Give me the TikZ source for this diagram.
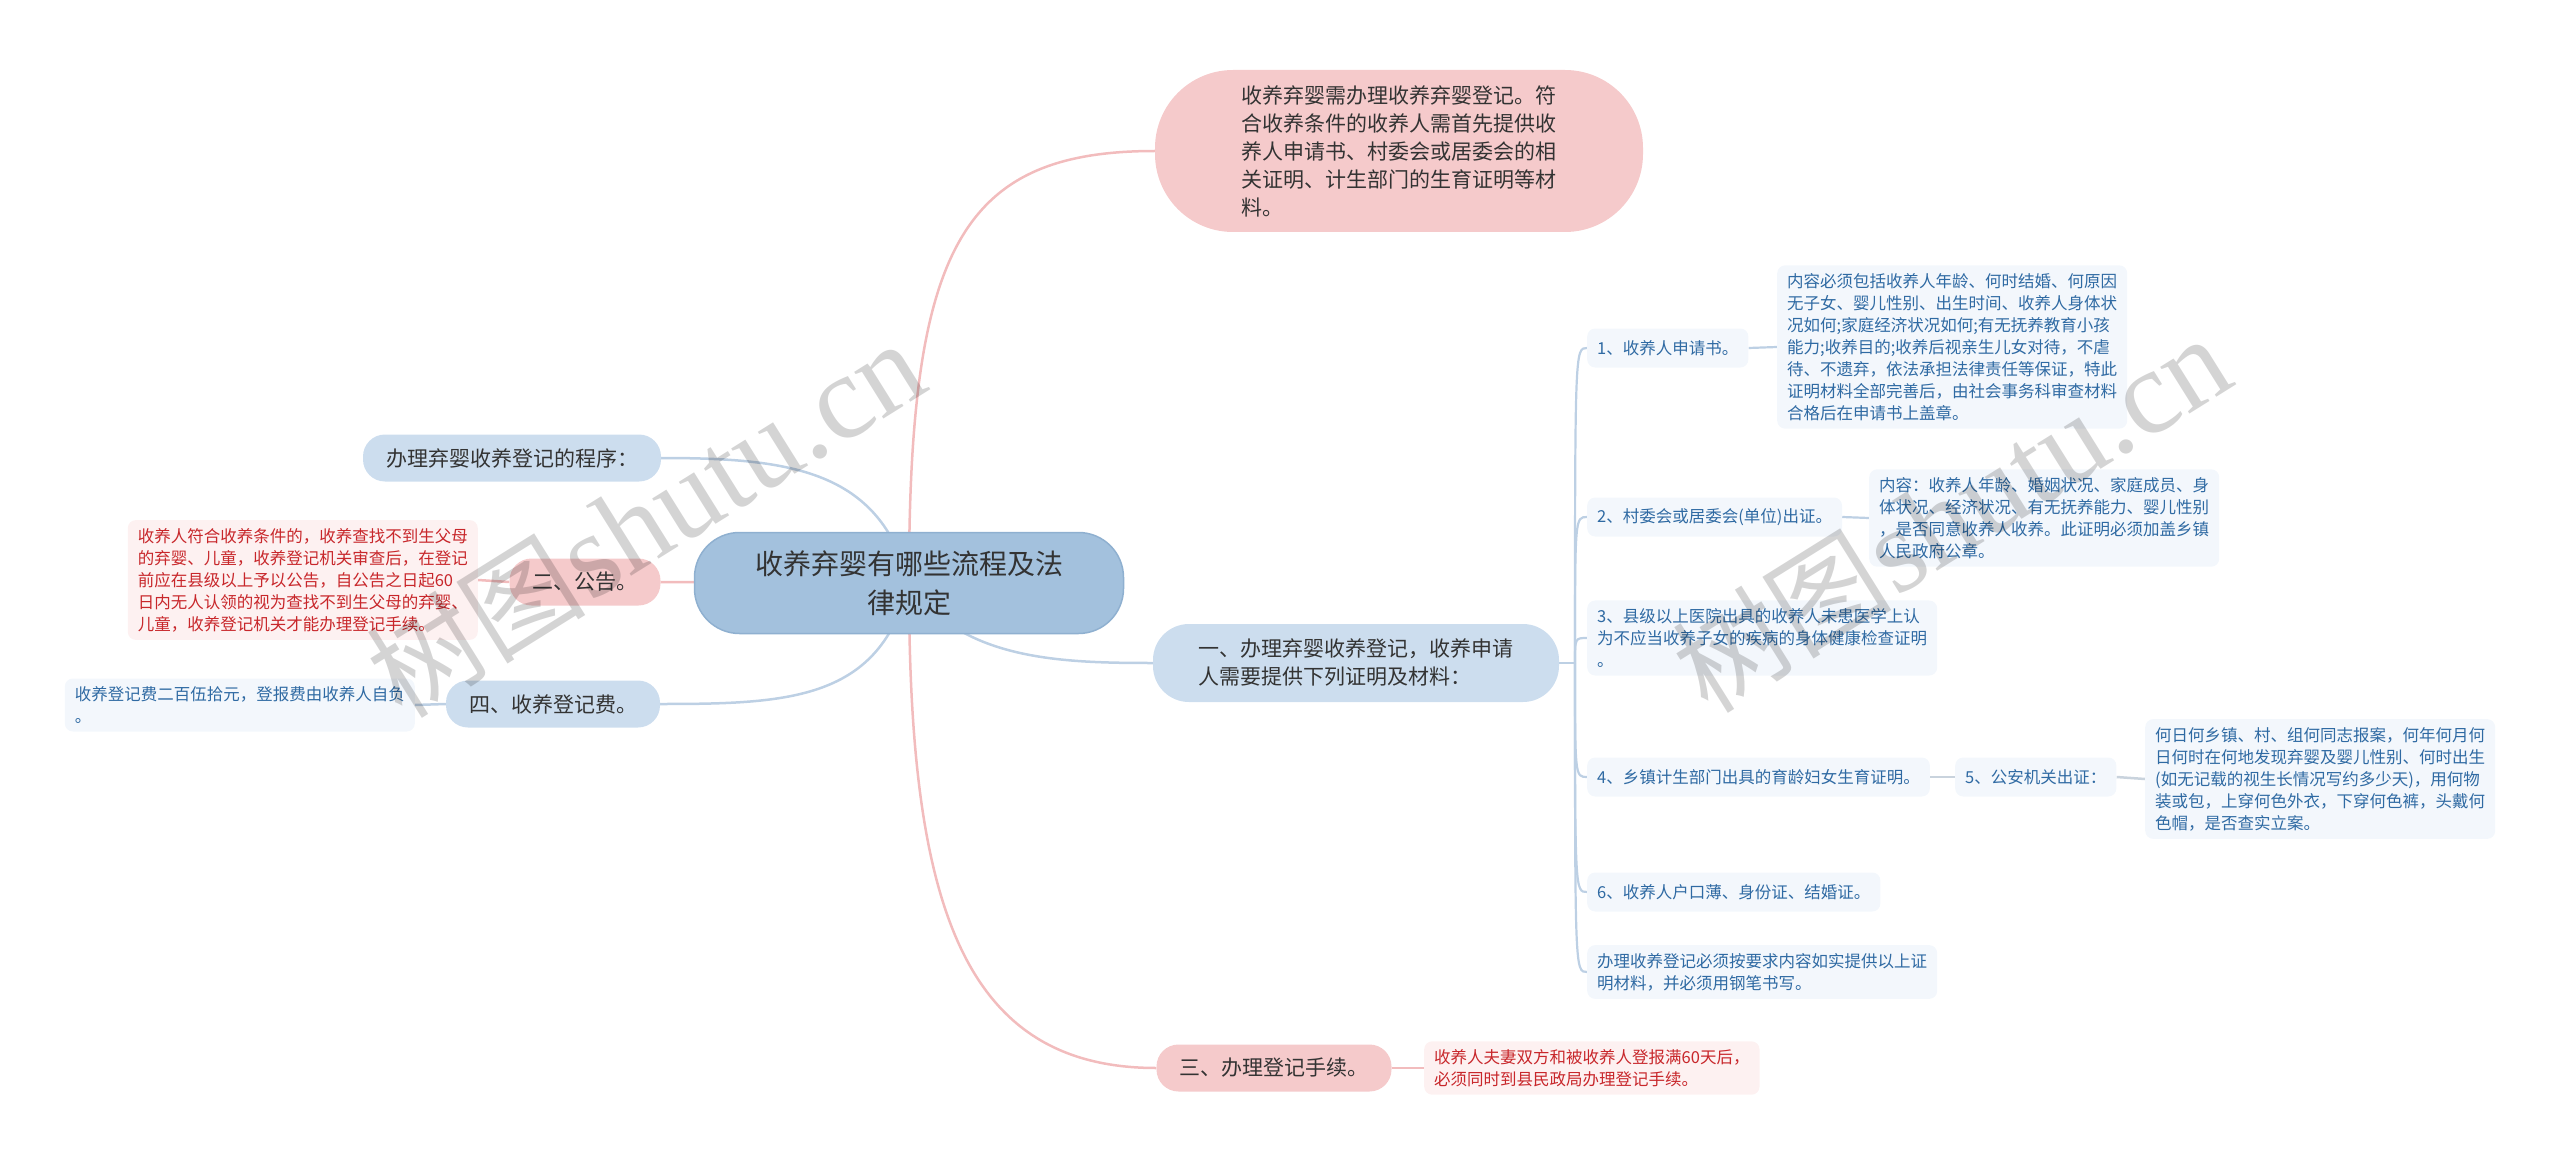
\documentclass[tikz,border=0pt]{standalone}
\usepackage{fontspec}
\setmainfont{Noto Sans CJK SC}
\newfontfamily\wmlatin{Liberation Serif}
\usetikzlibrary{backgrounds}
\definecolor{rootfill}{HTML}{A3C1DD}
\definecolor{rootline}{HTML}{8FB0D0}
\definecolor{lvlblue}{HTML}{CCDDEE}
\definecolor{lvlpink}{HTML}{F5CACB}
\definecolor{boxblue}{HTML}{F3F7FC}
\definecolor{boxred}{HTML}{FDF1F1}
\definecolor{txtblue}{HTML}{2F6AA3}
\definecolor{txtred}{HTML}{C8272B}
\definecolor{txtdark}{HTML}{333333}
\definecolor{linepink}{HTML}{F2BCBD}
\definecolor{lineblue}{HTML}{BDD0E4}
\definecolor{linegray}{HTML}{C9D3DD}
\begin{document}
\begin{tikzpicture}[x=1pt,y=-1pt,
  rootnode/.style={draw=rootline,line width=1.5pt,fill=rootfill,rounded corners=45pt,
    minimum width=429pt,minimum height=101pt,font=\fontsize{28}{39}\selectfont,
    text=txtdark,align=center,inner sep=0pt},
  lvb/.style={fill=lvlblue,rounded corners=22pt,minimum height=47pt,
    font=\fontsize{21}{28}\selectfont,text=txtdark,inner xsep=23pt,inner ysep=0pt},
  lvp/.style={lvb,fill=lvlpink},
  itb/.style={fill=boxblue,rounded corners=8pt,text=txtblue,font=\fontsize{16.5}{22}\selectfont,
    align=left,inner xsep=10pt,inner ysep=8pt,minimum height=39pt},
  itr/.style={itb,fill=boxred,text=txtred},
  pl/.style={draw=linepink,line width=2.5pt},
  bl/.style={draw=lineblue,line width=2.5pt},
  bl2/.style={draw=lineblue,line width=2.2pt},
  gl/.style={draw=linegray,line width=2.5pt},
  wm/.style={text=black,opacity=0.17}
]
\useasboundingbox (0,0) rectangle (2560,1169);

% root and level 1
\node[rootnode] (root) at (909,583) {收养弃婴有哪些流程及法\\律规定};
\node[lvp,rounded corners=78pt,minimum width=488pt,minimum height=162pt,align=left] (p1) at (1399,151)
  {收养弃婴需办理收养弃婴登记。符\\合收养条件的收养人需首先提供收\\养人申请书、村委会或居委会的相\\关证明、计生部门的生育证明等材\\料。};
\node[lvb,rounded corners=36pt,minimum width=406pt,minimum height=78pt,align=left] (yi) at (1356,663)
  {一、办理弃婴收养登记，收养申请\\人需要提供下列证明及材料：};
\node[lvp] (san) at (1274,1068) {三、办理登记手续。};
\node[lvb] (cx) at (512,458) {办理弃婴收养登记的程序：};
\node[lvp] (er) at (585,582) {二、公告。};
\node[lvb] (si) at (553,704) {四、收养登记费。};

% details
\node[itr,anchor=west] (sand) at (1424,1068) {收养人夫妻双方和被收养人登报满60天后，\\必须同时到县民政局办理登记手续。};
\node[itr,anchor=east] (erd) at (478,580) {收养人符合收养条件的，收养查找不到生父母\\的弃婴、儿童，收养登记机关审查后，在登记\\前应在县级以上予以公告，自公告之日起60\\日内无人认领的视为查找不到生父母的弃婴、\\儿童，收养登记机关才能办理登记手续。};
\node[itb,anchor=east] (sid) at (415,705) {收养登记费二百伍拾元，登报费由收养人自负\\。};

\node[itb,anchor=west] (c1) at (1587,348) {1、收养人申请书。};
\node[itb,anchor=west] (d1) at (1777,347) {内容必须包括收养人年龄、何时结婚、何原因\\无子女、婴儿性别、出生时间、收养人身体状\\况如何;家庭经济状况如何;有无抚养教育小孩\\能力;收养目的;收养后视亲生儿女对待，不虐\\待、不遗弃，依法承担法律责任等保证，特此\\证明材料全部完善后，由社会事务科审查材料\\合格后在申请书上盖章。};
\node[itb,anchor=west] (c2) at (1587,517) {2、村委会或居委会(单位)出证。};
\node[itb,anchor=west] (d2) at (1869,518) {内容：收养人年龄、婚姻状况、家庭成员、身\\体状况、经济状况、有无抚养能力、婴儿性别\\，是否同意收养人收养。此证明必须加盖乡镇\\人民政府公章。};
\node[itb,anchor=west] (c3) at (1587,638) {3、县级以上医院出具的收养人未患医学上认\\为不应当收养子女的疾病的身体健康检查证明\\。};
\node[itb,anchor=west] (c4) at (1587,777) {4、乡镇计生部门出具的育龄妇女生育证明。};
\node[itb,anchor=west] (c5) at (1955,777) {5、公安机关出证：};
\node[itb,anchor=west] (d5) at (2145,779) {何日何乡镇、村、组何同志报案，何年何月何\\日何时在何地发现弃婴及婴儿性别、何时出生\\(如无记载的视生长情况写约多少天)，用何物\\装或包，上穿何色外衣，下穿何色裤，头戴何\\色帽，是否查实立案。};
\node[itb,anchor=west] (c6) at (1587,892) {6、收养人户口薄、身份证、结婚证。};
\node[itb,anchor=west] (c7) at (1587,972) {办理收养登记必须按要求内容如实提供以上证\\明材料，并必须用钢笔书写。};

\coordinate (sp) at (1575,663);

\begin{pgfonlayer}{background}
\draw[pl] (root.center) .. controls (909,250) and (960,151) .. (p1.west);
\draw[pl] (root.center) .. controls (909,900) and (960,1068) .. (san.west);
\draw[pl] (root.center) -- (er.east);
\draw[bl] (root.center) .. controls (960,660) and (1060,663) .. (yi.west);
\draw[bl] (root.center) .. controls (880,470) and (790,458) .. (cx.east);
\draw[bl] (root.center) .. controls (880,700) and (790,704) .. (si.east);
\draw[pl] (er.west) -- (erd.east);
\draw[bl] (si.west) -- (sid.east);
\draw[pl] (san.east) -- (sand.west);
\draw[bl2] (yi.east) -- (sp);
\foreach \c in {c1,c2,c3,c4,c6,c7}{
  \draw[bl2] (sp) .. controls (sp |- \c.west) .. (\c.west);
}
\draw[bl2] (c1.east) -- (d1.west);
\draw[bl2] (c2.east) -- (d2.west);
\draw[gl] (c4.east) -- (c5.west);
\draw[gl] (c5.east) -- (d5.west);
\end{pgfonlayer}

% watermark
\node[wm,rotate=32] (wm1) at (645,519) {{\fontsize{110}{110}\selectfont 树图}\,{\wmlatin\fontsize{120}{120}\selectfont shutu.cn}};
\node[wm,rotate=32] (wm2) at (1951,514) {{\fontsize{110}{110}\selectfont 树图}\,{\wmlatin\fontsize{120}{120}\selectfont shutu.cn}};
\end{tikzpicture}
\end{document}
